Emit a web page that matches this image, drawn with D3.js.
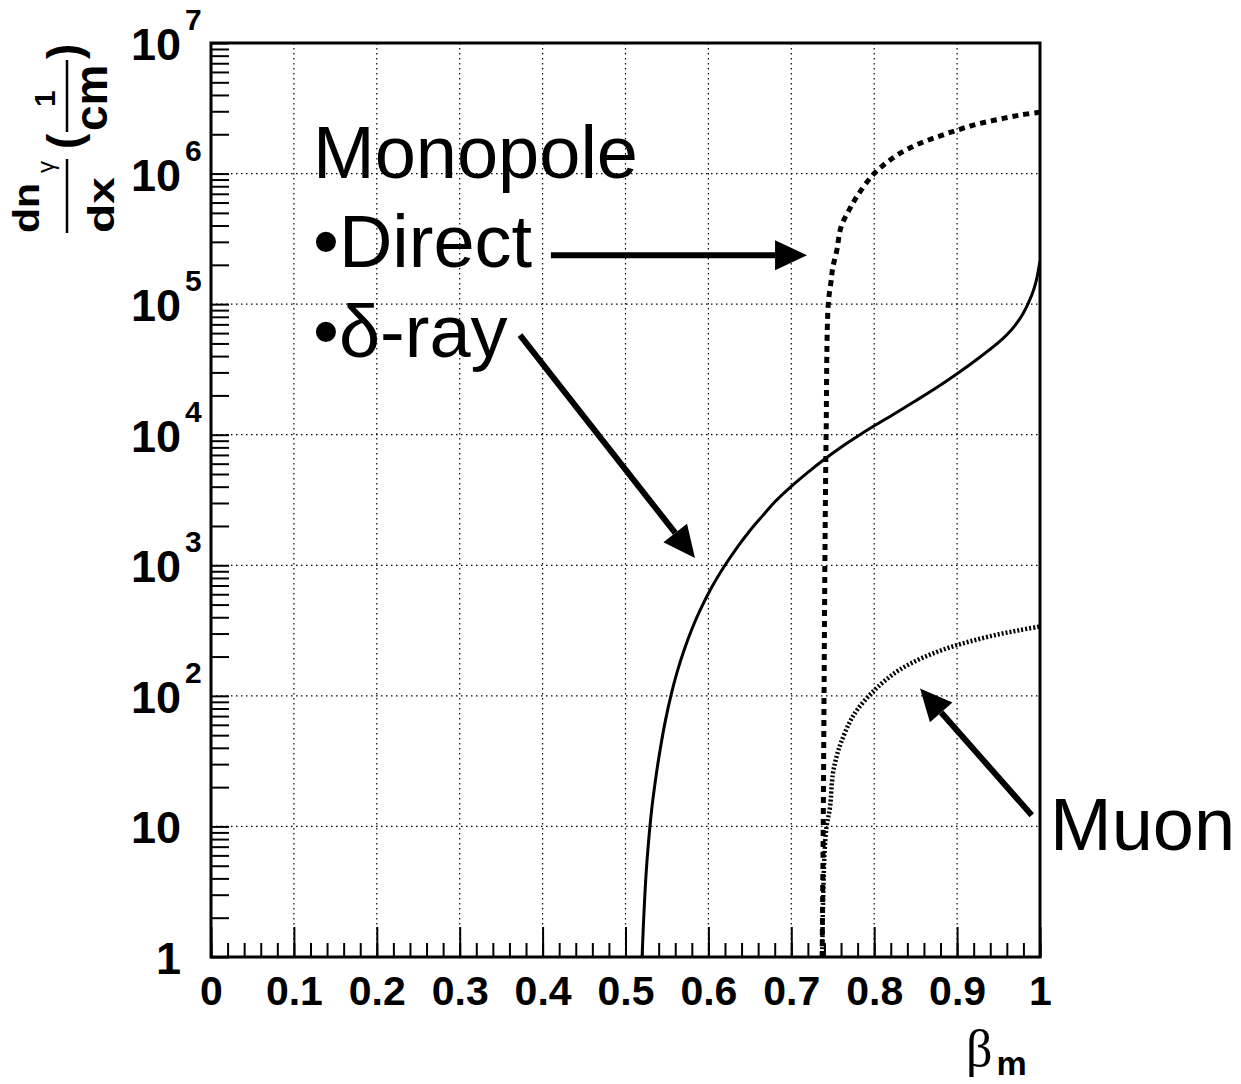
<!DOCTYPE html>
<html>
<head>
<meta charset="utf-8">
<script src="https://cdn.jsdelivr.net/npm/d3@7"></script>
<style>
  body { margin: 0; background: #fff; }
  svg { display: block; }
  text { font-family: "Liberation Sans", Arial, Helvetica, sans-serif; }
</style>
</head>
<body>
<svg id="chart" width="1241" height="1084"></svg>
<script>
// delta-ray curve (solid)
const deltaBeta = [0.520, 0.522, 0.525, 0.528, 0.5316, 0.535, 0.540, 0.548, 0.5555, 0.5625, 0.570, 0.580, 0.590, 0.605, 0.620, 0.635, 0.650, 0.665, 0.680, 0.700, 0.720, 0.740, 0.760, 0.780, 0.800, 0.825, 0.850, 0.875, 0.900, 0.925, 0.950, 0.960, 0.970, 0.980, 0.990, 0.995, 1.000];
const deltaDn   = [1.0, 2.0, 4.5, 7.9, 13.5, 20, 33, 64, 105, 154, 218, 324, 453, 696, 1000, 1380, 1840, 2380, 3050, 4020, 5150, 6490, 8020, 9730, 11700, 14560, 18190, 22890, 29310, 38200, 50930, 58340, 68870, 85700, 116900, 146600, 213800];

// direct Cherenkov curve of the monopole (dashed)
const directBeta = [0.7372, 0.7385, 0.7395, 0.7405, 0.7420, 0.7446, 0.7480, 0.7500, 0.7550, 0.7600, 0.7700, 0.7800, 0.8000, 0.8250, 0.8500, 0.8750, 0.9000, 0.9250, 0.9500, 0.9750, 1.0000];
const directDn   = [1, 10, 100, 1000, 10000, 100000, 150000, 190000, 260000, 390000, 530000, 680000, 1000000, 1350000, 1650000, 1900000, 2150000, 2400000, 2600000, 2800000, 2950000];

// muon curve (dotted)
const muonBeta = [0.7372, 0.7385, 0.7400, 0.7425, 0.7467, 0.7500, 0.7550, 0.7600, 0.7700, 0.7800, 0.8000, 0.8250, 0.8500, 0.8750, 0.9000, 0.9250, 0.9500, 0.9750, 1.0000];
const muonDn   = [1, 3, 6, 10, 14, 25, 35, 44, 62, 79, 110, 150, 185, 216, 245, 271, 296, 318, 340];

// axes
const xMajor = [0, 0.1, 0.2, 0.3, 0.4, 0.5, 0.6, 0.7, 0.8, 0.9, 1];
const xLabels = ["0", "0.1", "0.2", "0.3", "0.4", "0.5", "0.6", "0.7", "0.8", "0.9", "1"];
const yDecades = [1, 10, 1e2, 1e3, 1e4, 1e5, 1e6, 1e7];
const yBase = ["1", "10", "10", "10", "10", "10", "10", "10"];
const yExp  = ["", "", "2", "3", "4", "5", "6", "7"];

// annotation arrows, in data coordinates [beta, dn]
const arrows = [
  { from: [0.410, 2.37e5], to: [0.719, 2.37e5] },   // Direct
  { from: [0.3727, 5.79e4], to: [0.5838, 1135] },   // delta-ray
  { from: [0.990, 12.2], to: [0.8553, 114] }        // Muon
];

const svg = d3.select("#chart");
const pLeft = 211, pRight = 1040, pTop = 43, pBottom = 957;

const x = d3.scaleLinear().domain([0, 1]).range([pLeft, pRight]);
const y = d3.scaleLog().domain([1, 1e7]).range([pBottom, pTop]);

svg.append("defs").append("clipPath").attr("id", "plotclip")
  .append("rect").attr("x", pLeft).attr("y", pTop)
  .attr("width", pRight - pLeft).attr("height", pBottom - pTop);

// grid
const grid = svg.append("g").attr("stroke", "#000").attr("stroke-width", 1.2)
  .attr("stroke-dasharray", "1.5,3.5");
xMajor.slice(1, -1).forEach(v => {
  grid.append("line").attr("x1", x(v)).attr("x2", x(v)).attr("y1", pTop).attr("y2", pBottom);
});
yDecades.slice(1, -1).forEach(v => {
  grid.append("line").attr("x1", pLeft).attr("x2", pRight).attr("y1", y(v)).attr("y2", y(v));
});

// x axis ticks
const xMinor = d3.range(0, 1.0001, 0.02);
svg.append("g").attr("transform", `translate(0,${pBottom})`)
  .call(d3.axisBottom(x).tickValues(xMinor).tickSize(-14).tickFormat(""))
  .call(g => g.select(".domain").remove())
  .call(g => g.selectAll("line").attr("stroke-width", 2));
const xAxis = svg.append("g").attr("transform", `translate(0,${pBottom})`)
  .call(d3.axisBottom(x).tickValues(xMajor).tickSize(-30).tickPadding(48)
    .tickFormat((d, i) => xLabels[i]))
  .call(g => g.select(".domain").remove())
  .call(g => g.selectAll("line").attr("stroke-width", 2));
xAxis.selectAll("text")
  .attr("font-family", "'Liberation Sans', Arial, sans-serif")
  .attr("font-weight", "bold").attr("font-size", 41).attr("fill", "#000")
  .attr("dy", 0);

// y axis ticks (log minor)
const yMinor = [];
yDecades.slice(0, -1).forEach(d => { for (let k = 2; k <= 9; k++) yMinor.push(d * k); });
svg.append("g").attr("transform", `translate(${pLeft},0)`)
  .call(d3.axisRight(y).tickValues(yMinor.concat(yDecades)).tickSize(18).tickFormat(""))
  .call(g => g.select(".domain").remove())
  .call(g => g.selectAll("line").attr("stroke-width", 2));

// y tick labels with exponents
const yl = svg.append("g").attr("font-weight", "bold").attr("fill", "#000");
yDecades.forEach((d, i) => {
  yl.append("text").attr("x", 181).attr("y", y(d) + 17)
    .attr("text-anchor", "end").attr("font-size", 45).text(yBase[i]);
  if (yExp[i]) {
    yl.append("text").attr("x", 185).attr("y", y(d) - 13)
      .attr("font-size", 30).text(yExp[i]);
  }
});

// frame
svg.append("rect").attr("x", pLeft).attr("y", pTop)
  .attr("width", pRight - pLeft).attr("height", pBottom - pTop)
  .attr("fill", "none").attr("stroke", "#000").attr("stroke-width", 3);

// curves
const line = d3.line().x(d => x(d[0])).y(d => y(d[1])).curve(d3.curveCatmullRom.alpha(0.5));
const plot = svg.append("g").attr("clip-path", "url(#plotclip)").attr("fill", "none").attr("stroke", "#000");

plot.append("path").datum(muonBeta.map((b, i) => [b, muonDn[i]]))
  .attr("d", line).attr("stroke-width", 4.5).attr("stroke-dasharray", "2,2");
plot.append("path").datum(directBeta.map((b, i) => [b, directDn[i]]))
  .attr("d", line).attr("stroke-width", 5).attr("stroke-dasharray", "6,5");
plot.append("path").datum(deltaBeta.map((b, i) => [b, deltaDn[i]]))
  .attr("d", line).attr("stroke-width", 3);

// arrows
const ag = svg.append("g");
arrows.forEach(a => {
  const x1 = x(a.from[0]), y1 = y(a.from[1]), x2 = x(a.to[0]), y2 = y(a.to[1]);
  const ang = Math.atan2(y2 - y1, x2 - x1);
  const hl = 32, hw = 15;
  const bx = x2 - hl * Math.cos(ang), by = y2 - hl * Math.sin(ang);
  ag.append("line").attr("x1", x1).attr("y1", y1).attr("x2", bx).attr("y2", by)
    .attr("stroke", "#000").attr("stroke-width", 6);
  const px = -Math.sin(ang) * hw, py = Math.cos(ang) * hw;
  ag.append("polygon")
    .attr("points", `${x2},${y2} ${bx + px},${by + py} ${bx - px},${by - py}`)
    .attr("fill", "#000");
});

// labels in the plot
const lab = svg.append("g").attr("font-size", 74).attr("fill", "#000");
lab.append("text").attr("x", 313).attr("y", 178).text("Monopole");
lab.append("text").attr("x", 313).attr("y", 267).text("\u2022Direct");
lab.append("text").attr("x", 313).attr("y", 357).text("\u2022\u03b4-ray");
lab.append("text").attr("x", 1050).attr("y", 850).text("Muon");

// x axis title
const xt = svg.append("text").attr("x", 966).attr("y", 1066).attr("fill", "#000");
xt.append("tspan").attr("font-family", "'Liberation Serif', 'Times New Roman', serif")
  .attr("font-size", 52).text("\u03b2");
xt.append("tspan").attr("font-weight", "bold").attr("font-size", 34).attr("dy", 9).attr("dx", 4).text("m");

// y axis title (rotated fraction)
const yt = svg.append("g").attr("transform", "translate(67,233) rotate(-90)")
  .attr("fill", "#000").attr("font-weight", "bold");
yt.append("text").attr("x", 0).attr("y", -28).attr("font-size", 36)
  .attr("textLength", 50).attr("lengthAdjust", "spacingAndGlyphs").text("dn");
yt.append("text").attr("x", 60).attr("y", -13).attr("font-size", 24)
  .attr("font-weight", "normal").attr("font-family", "'Liberation Serif', serif").text("\u03b3");
yt.append("line").attr("x1", 0).attr("x2", 74).attr("y1", 0).attr("y2", 0)
  .attr("stroke", "#000").attr("stroke-width", 2.5);
yt.append("text").attr("x", 0).attr("y", 47).attr("font-size", 36)
  .attr("textLength", 56).attr("lengthAdjust", "spacingAndGlyphs").text("dx");
yt.append("text").attr("x", 84).attr("y", 13).attr("font-size", 46).text("(");
yt.append("text").attr("x", 126).attr("y", -12).attr("font-size", 30).text("1");
yt.append("line").attr("x1", 101).attr("x2", 173).attr("y1", 0).attr("y2", 0)
  .attr("stroke", "#000").attr("stroke-width", 2.5);
yt.append("text").attr("x", 102).attr("y", 40).attr("font-size", 46).text("cm");
yt.append("text").attr("x", 174).attr("y", 13).attr("font-size", 46).text(")");
</script>
</body>
</html>
